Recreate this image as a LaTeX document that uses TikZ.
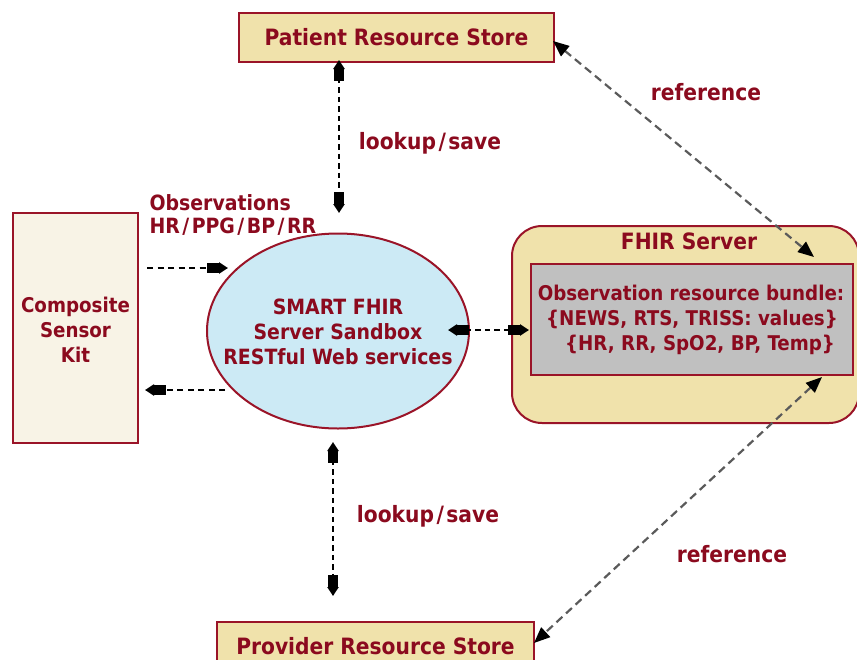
\documentclass[tikz,border=0pt]{standalone}
\usepackage{fontspec}
\setmainfont{DejaVu Sans Condensed}
\usetikzlibrary{arrows.meta,shapes.geometric}
\definecolor{txtred}{HTML}{8B0A1E}
\definecolor{edgered}{HTML}{9A1428}
\definecolor{khaki}{HTML}{F0E2AB}
\definecolor{cream}{HTML}{F8F3E6}
\definecolor{skyfill}{HTML}{CCEAF5}
\definecolor{bundlegray}{HTML}{C0C0C0}
\definecolor{dashgray}{HTML}{5A5A5A}
\newcommand{\wideslash}{\kern2.5pt/\kern2.5pt}
\tikzset{
  lblL/.style={text=txtred, font=\bfseries\fontsize{22.5}{27}\selectfont},
  lblM/.style={text=txtred, font=\bfseries\fontsize{21}{25}\selectfont},
  lblS/.style={text=txtred, font=\bfseries\fontsize{20.3}{24}\selectfont},
  store/.style={draw=edgered, line width=2pt, fill=khaki, inner sep=0pt},
  pencil/.tip={Rectangle[length=12pt,width=10pt] Triangle[length=9pt,width=11pt]},
  link/.style={black, line width=2.6pt, dash pattern=on 5.5pt off 4pt,
    {pencil}-{pencil}},
  oneway/.style={black, line width=2.6pt, dash pattern=on 6pt off 4.5pt,
    -{pencil}},
  refline/.style={dashgray, line width=2.2pt, dash pattern=on 8pt off 5pt,
    {Triangle[length=16pt,width=13pt,black]}-{Triangle[length=16pt,width=13pt,black]}},
}
\begin{document}
\begin{tikzpicture}[x=1pt,y=-1pt]
\useasboundingbox (0,0) rectangle (857,659);

% FHIR server container with the observation bundle
\node[store, rounded corners=30pt, minimum width=347pt, minimum height=197pt, anchor=north west] (fhir) at (511,225) {};
\node[lblL, anchor=center] (fhirlbl) at (689,241) {FHIR Server};
\node[draw=edgered, line width=2pt, fill=bundlegray, minimum width=322pt, minimum height=111pt, anchor=north west, inner sep=0pt] (bundle) at (530,263) {};
\node[lblS] (b1) at (691,293) {Observation resource bundle:};
\node[lblS] (b2) at (692,319) {\{NEWS, RTS, TRISS: values\}};
\node[lblS] (b3) at (700,345) {\{HR, RR, SpO2, BP, Temp\}};

% resource stores
\node[store, minimum width=315pt, minimum height=49pt, lblL] (patient) at (396.5,37.5) {Patient Resource Store};
\node[store, minimum width=317pt, minimum height=48pt, lblL] (provider) at (375.5,646) {Provider Resource Store};

% sensor kit
\node[draw=edgered, line width=2pt, fill=cream, minimum width=125pt, minimum height=230pt, inner sep=0pt] (sensor) at (75.5,328) {};
\node[lblS, align=center] (sensortext) at (75.5,330) {Composite\\[1pt]Sensor\\[1pt]Kit};

% sandbox web services
\node[ellipse, draw=edgered, line width=2pt, fill=skyfill, minimum width=262pt, minimum height=195pt, inner sep=0pt] (sandbox) at (338,331) {};
\node[lblM, align=center] (sbtext) at (338,332) {SMART FHIR\\Server Sandbox\\RESTful Web services};

% connector end points
\coordinate (pt) at (339,60);
\coordinate (pb) at (339,213);
\coordinate (qt) at (333,442);
\coordinate (qb) at (333,596);
\coordinate (inA) at (147,268);
\coordinate (inB) at (228,268);
\coordinate (outA) at (225,390);
\coordinate (outB) at (145,390);
\coordinate (hl) at (448,330);
\coordinate (hr) at (529,330);
\coordinate (r1a) at (553,41);
\coordinate (r1b) at (814,257);
\coordinate (r2a) at (822,377);
\coordinate (r2b) at (534,643);

\draw[link] (pt) -- (pb);
\draw[link] (qt) -- (qb);
\draw[oneway] (inA) -- (inB);
\draw[oneway] (outA) -- (outB);
\draw[link] (hl) -- (hr);
\draw[refline] (r1a) -- (r1b);
\draw[refline] (r2a) -- (r2b);

% connector labels
\node[lblL] (ls1) at (430,143) {lookup\wideslash save};
\node[lblL] (ls2) at (428,516) {lookup\wideslash save};
\node[lblL] (ref1) at (706,92) {reference};
\node[lblL] (ref2) at (732,554) {reference};
\node[lblM, anchor=west, align=left] (obs) at (146,215) {Observations\\[-2pt]HR\wideslash PPG\wideslash BP\wideslash RR};
\end{tikzpicture}
\end{document}
